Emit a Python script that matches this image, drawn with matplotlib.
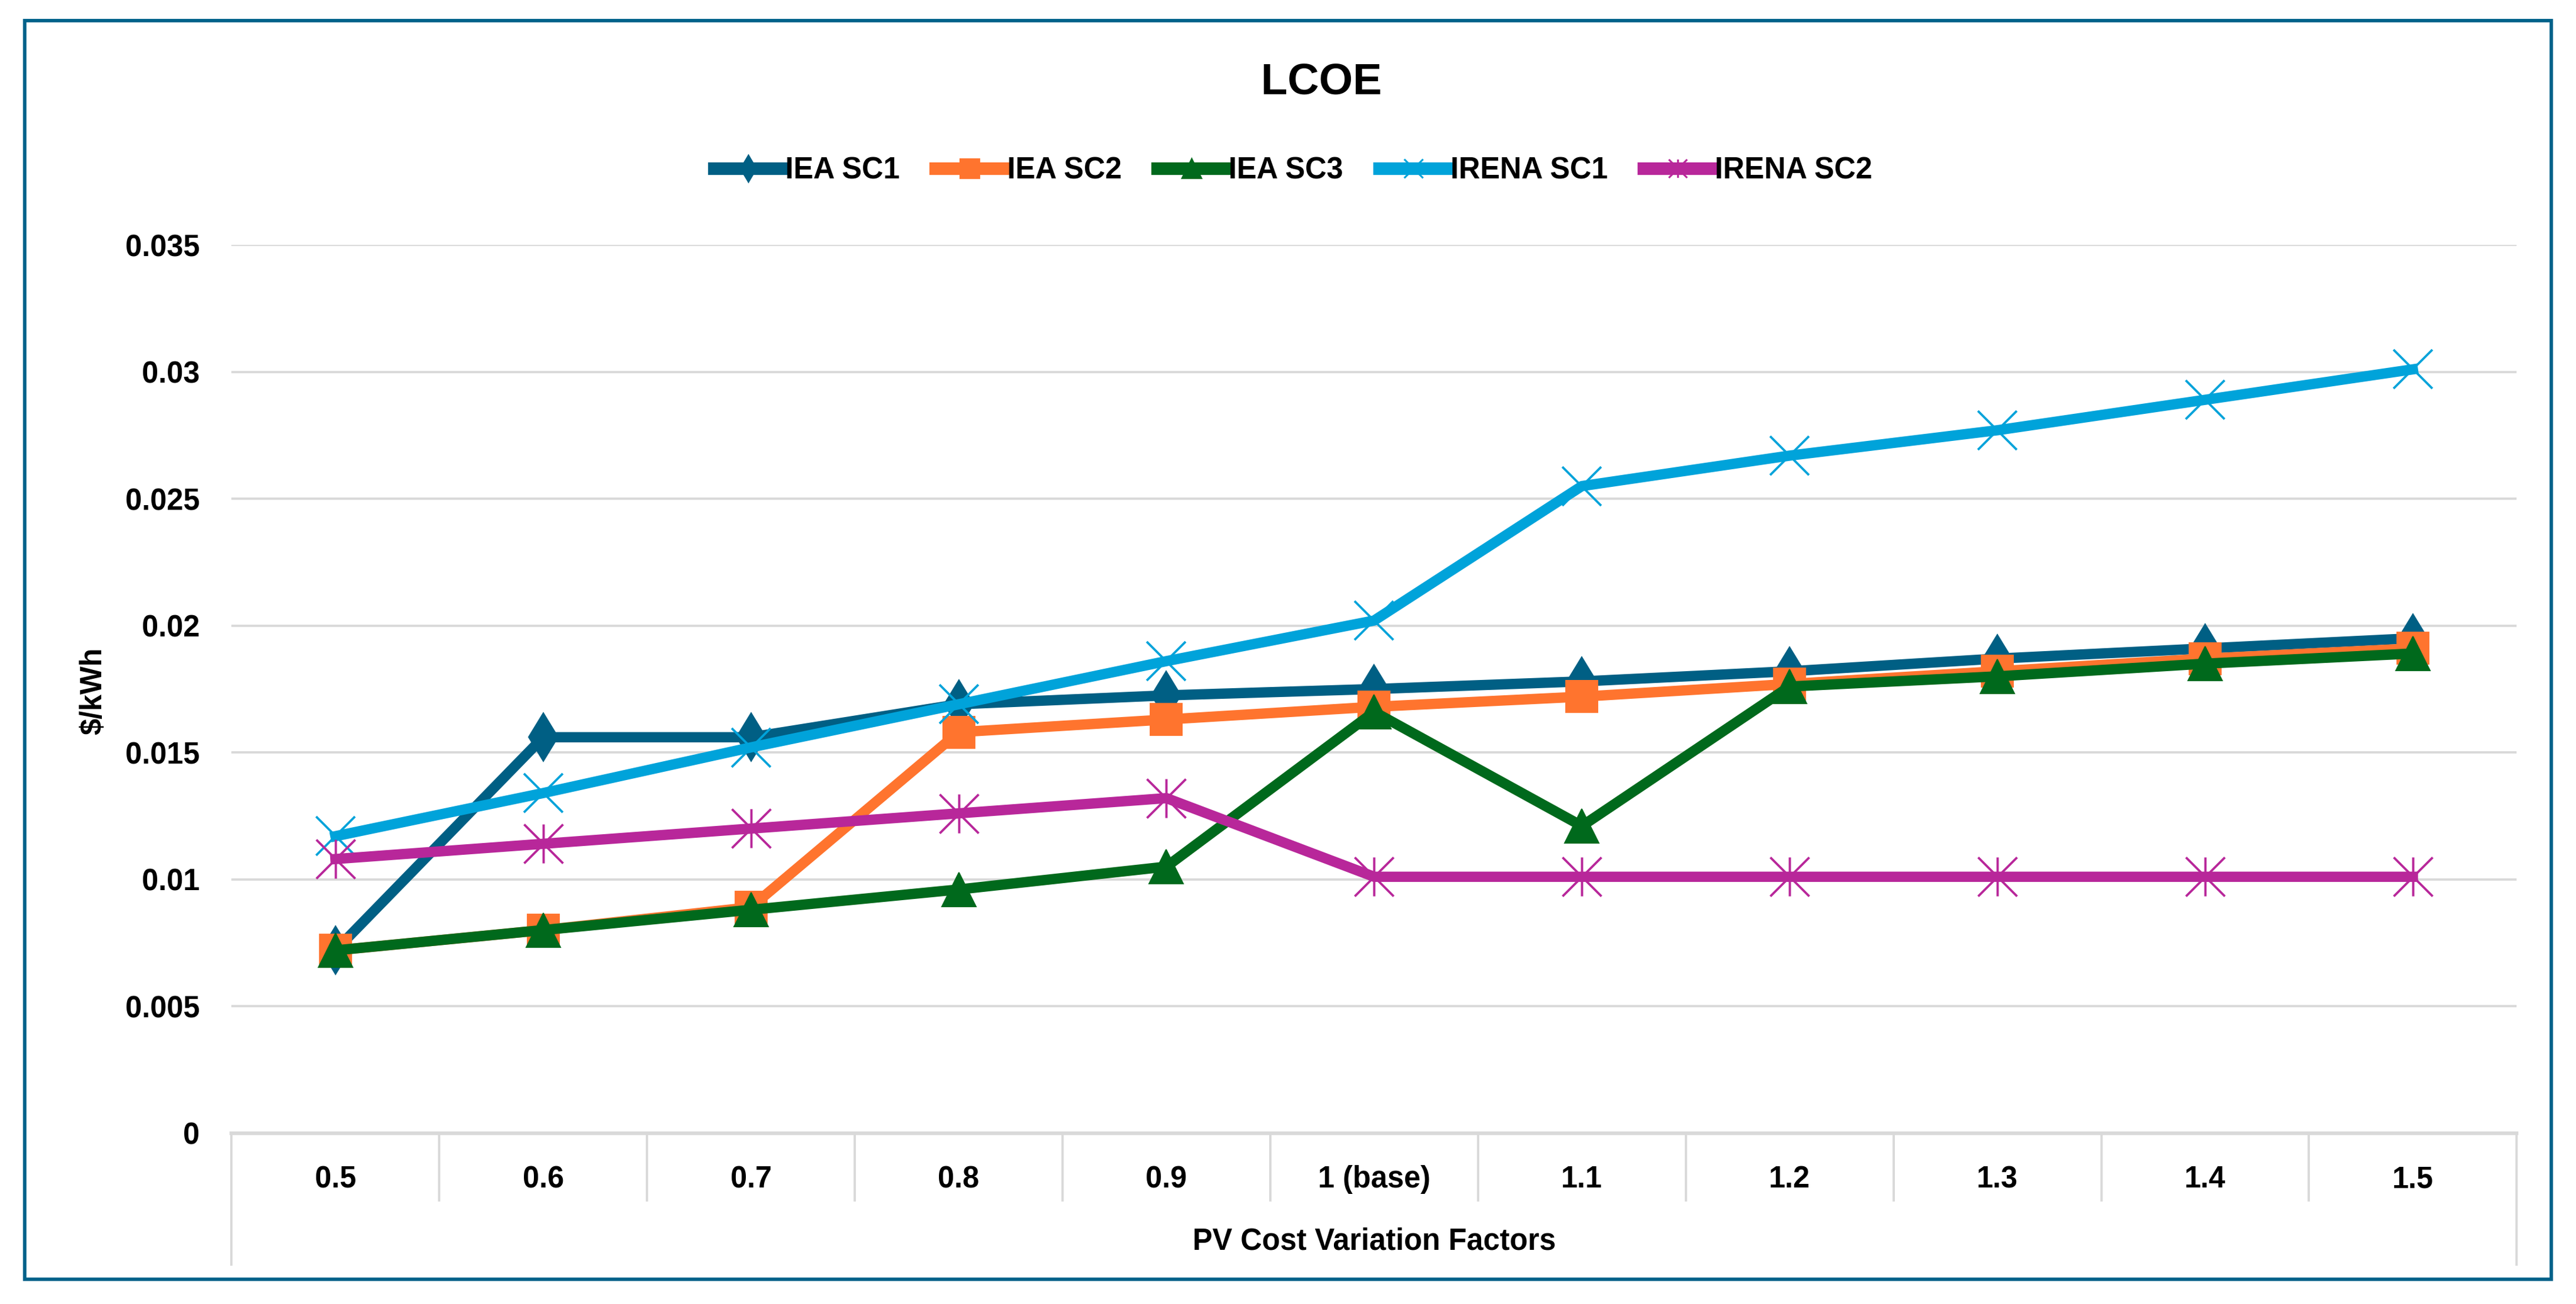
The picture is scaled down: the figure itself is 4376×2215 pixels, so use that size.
import matplotlib.pyplot as plt
import numpy as np
from matplotlib.path import Path
from matplotlib.patches import Rectangle
from matplotlib.lines import Line2D

plt.rcParams['font.family'] = ['Liberation Sans', 'DejaVu Sans']
plt.rcParams['font.weight'] = 'bold'

# data
factors = ['0.5', '0.6', '0.7', '0.8', '0.9', '1 (base)', '1.1', '1.2', '1.3', '1.4', '1.5']
iea_sc1 = [0.0072, 0.0156, 0.0156, 0.0169, 0.01725, 0.0175, 0.0178, 0.0182, 0.0187, 0.0191, 0.0195]
iea_sc2 = [0.0072, 0.0080, 0.0089, 0.0158, 0.0163, 0.0168, 0.0172, 0.0177, 0.0182, 0.0187, 0.0191]
iea_sc3 = [0.0072, 0.0080, 0.0088, 0.0096, 0.0105, 0.0166, 0.0121, 0.0176, 0.0180, 0.0185, 0.0189]
irena_sc1 = [0.0117, 0.0134, 0.0152, 0.0169, 0.0186, 0.0202, 0.0255, 0.0267, 0.0277, 0.0289, 0.0301]
irena_sc2 = [0.0108, 0.0114, 0.0120, 0.0126, 0.0132, 0.0101, 0.0101, 0.0101, 0.0101, 0.0101, 0.0101]
names = ['IEA SC1', 'IEA SC2', 'IEA SC3', 'IRENA SC1', 'IRENA SC2']
colors = ['#005F84', '#FF742E', '#00691C', '#00A3DA', '#B8279A']

# excel-like star marker (x plus vertical bar)
star = Path([(-1, -1), (1, 1), (1, -1), (-1, 1), (0, -1), (0, 1)],
            [Path.MOVETO, Path.LINETO, Path.MOVETO, Path.LINETO, Path.MOVETO, Path.LINETO])

fig = plt.figure(figsize=(4376/280, 2215/280), dpi=280)
ax = fig.add_axes([0.0899, 0.1311, 0.8871, 0.681])

x = np.arange(len(factors))
gc = '#D9D9D9'
lw = 4.5

ax.plot(x, iea_sc1, color=colors[0], lw=lw, marker='d', ms=15, mfc=colors[0], mec=colors[0], mew=0.5)
ax.plot(x, iea_sc2, color=colors[1], lw=lw, marker='s', ms=14, mfc=colors[1], mec=colors[1], mew=0.5)
ax.plot(x, iea_sc3, color=colors[2], lw=lw, marker='^', ms=15, mfc=colors[2], mec=colors[2], mew=0.5)
ax.plot(x, irena_sc1, color=colors[3], lw=lw, marker='x', ms=17, mec=colors[3], mew=1)
ax.plot(x, irena_sc2, color=colors[4], lw=lw, marker=star, ms=17, mfc='none', mec=colors[4], mew=1)

ax.set_xlim(-0.5, len(factors) - 0.5)
ax.set_ylim(0, 0.035)
ax.set_yticks(np.arange(0, 0.0351, 0.005))
ax.set_yticklabels(['0', '0.005', '0.01', '0.015', '0.02', '0.025', '0.03', '0.035'])
ax.set_xticks(x)
ax.set_xticklabels(factors)
ax.tick_params(axis='both', length=0, labelsize=13, colors='black')
ax.tick_params(axis='y', pad=14)
ax.tick_params(axis='x', pad=14)
ax.grid(axis='y', color=gc, lw=1)
ax.set_axisbelow(True)
for s in ['left', 'right', 'top']:
    ax.spines[s].set_visible(False)
ax.spines['bottom'].set_color(gc)
ax.spines['bottom'].set_linewidth(1.6)

# category band under the axis
tr = ax.get_xaxis_transform()
for k in range(len(factors) + 1):
    y_end = -0.148 if k in (0, len(factors)) else -0.076
    ax.plot([k - 0.5, k - 0.5], [0, y_end], color=gc, lw=1, transform=tr, clip_on=False)

ax.text(0.5, -0.122, 'PV Cost Variation Factors', transform=ax.transAxes,
        ha='center', va='center', fontsize=13, fontweight='bold')
ax.text(-0.0604, 0.498, '$/kWh', transform=ax.transAxes, rotation=90,
        ha='center', va='center', fontsize=13, fontweight='bold')

fig.text(0.513, 0.937, 'LCOE', ha='center', va='center', fontsize=19, fontweight='bold')

# legend: thick short lines with small markers, like excel
mk = ['d', 's', '^', 'x', star]
handles = []
for i in range(5):
    handles.append(Line2D([], [], color=colors[i], lw=5.5, marker=mk[i], ms=8,
                          mfc=colors[i] if i < 3 else 'none', mec=colors[i], mew=0.8))
fig.legend(handles, names, loc='center', bbox_to_anchor=(0.502, 0.869), ncol=5, frameon=False,
           prop={'family': ['Liberation Sans Narrow', 'Liberation Sans'], 'weight': 'bold', 'size': 13},
           handlelength=2.3, columnspacing=1.2, handletextpad=0.1)

fig.patches.append(Rectangle((0.0096, 0.019), 0.9808, 0.965, transform=fig.transFigure,
                             fill=False, edgecolor='#00628A', lw=1.5))

fig.savefig('out.png', dpi=280)
